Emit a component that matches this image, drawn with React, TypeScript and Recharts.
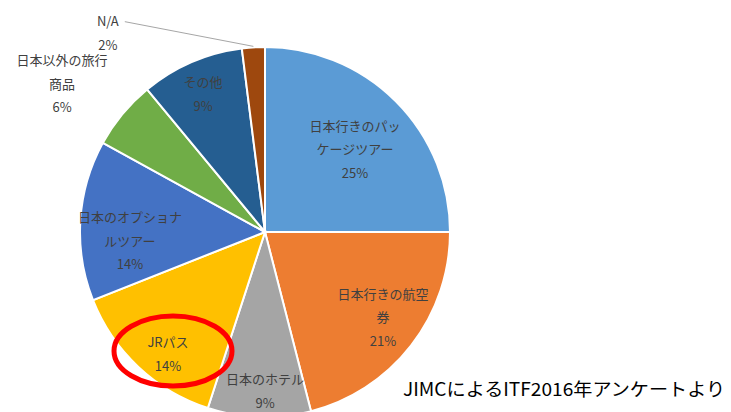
import React from "react";
import { PieChart, Pie, Cell } from "recharts";

const categories = [
  "日本行きのパッケージツアー",
  "日本行きの航空券",
  "日本のホテル",
  "JRパス",
  "日本のオプショナルツアー",
  "日本以外の旅行商品",
  "その他",
  "N/A",
];
const values = [25, 21, 9, 14, 14, 6, 9, 2];
const labelLines = [
  ["日本行きのパッ", "ケージツアー"],
  ["日本行きの航空", "券"],
  ["日本のホテル"],
  ["JRパス"],
  ["日本のオプショナ", "ルツアー"],
  ["日本以外の旅行", "商品"],
  ["その他"],
  ["N/A"],
];
const colors = ["#5B9BD5", "#ED7D31", "#A5A5A5", "#FFC000", "#4472C4", "#70AD47", "#255E91", "#9E480E"];
const footnote = "JIMCによるITF2016年アンケートより";

// label placement (radius + nudge), styling only
const labelRadius = [123, 145, 158, 150, 135, 240, 150, 210];
const labelNudge: [number, number][] = [
  [3, 3.5], [3.4, -3.9], [5, 0.6], [5.7, 12.1], [-0.3, 16.5], [-18, 4], [-2.4, -0.8], [-144, 10],
];

const data = categories.map((name, i) => ({ name, value: values[i] }));

const RAD = Math.PI / 180;
const FONT = "'Noto Sans CJK JP', 'Noto Sans', sans-serif";
const LH = 23.5;

const renderLabel = (props: any) => {
  const { cx, cy, midAngle, outerRadius, index, value } = props;
  const r = labelRadius[index];
  const bx = cx + r * Math.cos(-midAngle * RAD);
  const by = cy + r * Math.sin(-midAngle * RAD);
  const x = bx + labelNudge[index][0];
  const y = by + labelNudge[index][1];
  const lines = [...labelLines[index], `${value}%`];
  const n = lines.length;
  let leader = null;
  if (index === 7) {
    const ex = cx + outerRadius * Math.cos(-midAngle * RAD);
    const ey = cy + outerRadius * Math.sin(-midAngle * RAD);
    const sx = x + 17;
    const sy = y - LH / 2 + 1;
    leader = <line x1={sx} y1={sy} x2={ex} y2={ey - 1} stroke="#A6A6A6" strokeWidth={1} />;
  }
  return (
    <g key={`lbl-${index}`}>
      {leader}
      {lines.map((t, i) => (
        <text
          key={i}
          x={x}
          y={y + (i - (n - 1) / 2) * LH}
          textAnchor="middle"
          dominantBaseline="central"
          fill="#404040"
          fontSize={13}
          fontFamily={FONT}
        >
          {t}
        </text>
      ))}
    </g>
  );
};

export default function App() {
  return (
    <div style={{ position: "relative", width: 723, height: 404 }}>
      <PieChart width={723} height={404} margin={{ top: 0, right: 0, bottom: 0, left: 0 }}>
        <Pie
          data={data}
          dataKey="value"
          nameKey="name"
          cx={257}
          cy={224}
          outerRadius={185}
          startAngle={90}
          endAngle={-270}
          stroke="#FFFFFF"
          strokeWidth={2}
          label={renderLabel}
          labelLine={false}
          isAnimationActive={false}
        >
          {data.map((d, i) => (
            <Cell key={d.name} fill={colors[i]} />
          ))}
        </Pie>
      </PieChart>
      <svg
        width={723}
        height={404}
        style={{ position: "absolute", left: 0, top: 0, pointerEvents: "none" }}
      >
        <ellipse cx={165} cy={343} rx={59} ry={35} fill="none" stroke="#FF0000" strokeWidth={5} />
        <text
          x={395}
          y={380}
          dominantBaseline="central"
          fill="#000000"
          fontSize={18}
          fontFamily={FONT}
          textLength={322}
          lengthAdjust="spacingAndGlyphs"
        >
          {footnote}
        </text>
      </svg>
    </div>
  );
}
